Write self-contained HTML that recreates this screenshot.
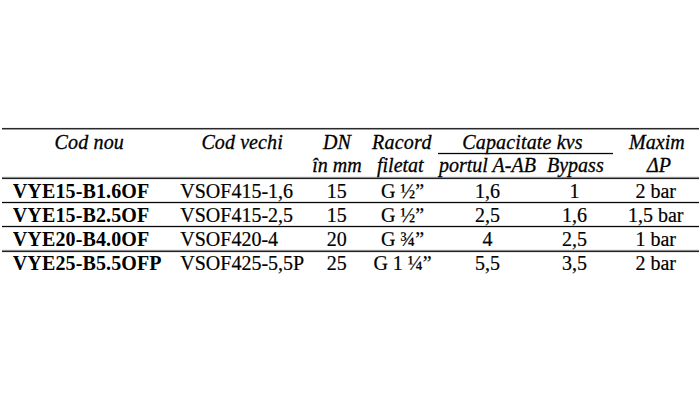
<!DOCTYPE html>
<html><head><meta charset="utf-8"><title>VYE</title>
<style>
html,body{margin:0;padding:0;background:#fff;}
body{width:700px;height:407px;position:relative;overflow:hidden;font-family:"Liberation Serif","Times New Roman",serif;font-size:20px;color:#000;}
.t{position:absolute;white-space:nowrap;line-height:20px;-webkit-text-stroke:0.2px #000;}
.i{font-style:italic;-webkit-text-stroke:0.3px #000;}
.b{font-weight:bold;-webkit-text-stroke:0;letter-spacing:0.13px;}
.c{transform:translateX(-50%);}
.l{position:absolute;background:#111;}
</style></head><body>
<div class="l" style="left:2px;top:127px;width:697px;height:1px;background:#f0f0f0"></div>
<div class="l" style="left:2px;top:128px;width:697px;height:1px;background:#2a2a2a"></div>
<div class="l" style="left:2px;top:129px;width:697px;height:1px;background:#9a9a9a"></div>
<div class="l" style="left:2px;top:176px;width:697px;height:1px;background:#eeeeee"></div>
<div class="l" style="left:2px;top:177px;width:697px;height:1px;background:#8a8a8a"></div>
<div class="l" style="left:2px;top:178px;width:697px;height:1px;background:#222222"></div>
<div class="l" style="left:2px;top:179px;width:697px;height:1px;background:#e8e8e8"></div>
<div class="l" style="left:2px;top:201px;width:697px;height:1px;background:#e0e0e0"></div>
<div class="l" style="left:2px;top:202px;width:697px;height:1px;background:#050505"></div>
<div class="l" style="left:2px;top:203px;width:697px;height:1px;background:#d8d8d8"></div>
<div class="l" style="left:2px;top:225px;width:697px;height:1px;background:#e0e0e0"></div>
<div class="l" style="left:2px;top:226px;width:697px;height:1px;background:#050505"></div>
<div class="l" style="left:2px;top:227px;width:697px;height:1px;background:#d8d8d8"></div>
<div class="l" style="left:2px;top:249px;width:697px;height:1px;background:#eeeeee"></div>
<div class="l" style="left:2px;top:250px;width:697px;height:1px;background:#8a8a8a"></div>
<div class="l" style="left:2px;top:251px;width:697px;height:1px;background:#222222"></div>
<div class="l" style="left:2px;top:252px;width:697px;height:1px;background:#e8e8e8"></div>
<div class="l" style="left:438px;top:152px;width:175px;height:1px;background:#e0e0e0"></div>
<div class="l" style="left:438px;top:153px;width:175px;height:1px;background:#050505"></div>
<div class="l" style="left:438px;top:154px;width:175px;height:1px;background:#d8d8d8"></div>
<span class="t i" style="left:54.6px;top:131.5px;letter-spacing:0.15px">Cod nou</span>
<span class="t i" style="left:201.4px;top:131.5px;letter-spacing:0.1px">Cod vechi</span>
<span class="t i" style="left:323px;top:131.5px;">DN</span>
<span class="t i" style="left:372px;top:131.5px;letter-spacing:0.25px">Racord</span>
<span class="t i" style="left:462.3px;top:131.5px;letter-spacing:0.15px">Capacitate kvs</span>
<span class="t i" style="left:629.1px;top:131.5px;">Maxim</span>
<span class="t i" style="left:312.3px;top:154.5px;">în mm</span>
<span class="t i" style="left:377px;top:154.5px;">filetat</span>
<span class="t i" style="left:439px;top:154.5px;">portul A-AB</span>
<span class="t i" style="left:547px;top:154.5px;">Bypass</span>
<span class="t i" style="left:647.0px;top:154.5px;">ΔP</span>
<span class="t b" style="left:12.8px;top:180.7px;">VYE15-B1.6OF</span>
<span class="t b" style="left:12.8px;top:204.7px;">VYE15-B2.5OF</span>
<span class="t b" style="left:12.8px;top:228.6px;">VYE20-B4.0OF</span>
<span class="t b" style="left:12.8px;top:253.1px;">VYE25-B5.5OFP</span>
<span class="t" style="left:180.3px;top:180.7px;">VSOF415-1,6</span>
<span class="t" style="left:180.3px;top:204.7px;">VSOF415-2,5</span>
<span class="t" style="left:180.3px;top:228.6px;">VSOF420-4</span>
<span class="t" style="left:180.3px;top:253.1px;">VSOF425-5,5P</span>
<span class="t c" style="left:336.8px;top:180.7px;">15</span>
<span class="t c" style="left:336.8px;top:204.7px;">15</span>
<span class="t c" style="left:336.8px;top:228.6px;">20</span>
<span class="t c" style="left:336.8px;top:253.1px;">25</span>
<span class="t c" style="left:402.6px;top:180.7px;">G ½”</span>
<span class="t c" style="left:402.6px;top:204.7px;">G ½”</span>
<span class="t c" style="left:402.6px;top:228.6px;">G ¾”</span>
<span class="t c" style="left:402.6px;top:253.1px;">G 1 ¼”</span>
<span class="t c" style="left:487.6px;top:180.7px;">1,6</span>
<span class="t c" style="left:487.6px;top:204.7px;">2,5</span>
<span class="t c" style="left:487.6px;top:228.6px;">4</span>
<span class="t c" style="left:487.6px;top:253.1px;">5,5</span>
<span class="t c" style="left:574.5px;top:180.7px;">1</span>
<span class="t c" style="left:574.5px;top:204.7px;">1,6</span>
<span class="t c" style="left:574.5px;top:228.6px;">2,5</span>
<span class="t c" style="left:574.5px;top:253.1px;">3,5</span>
<span class="t c" style="left:655.7px;top:180.7px;">2 bar</span>
<span class="t c" style="left:655.7px;top:204.7px;">1,5 bar</span>
<span class="t c" style="left:655.7px;top:228.6px;">1 bar</span>
<span class="t c" style="left:655.7px;top:253.1px;">2 bar</span>
</body></html>
